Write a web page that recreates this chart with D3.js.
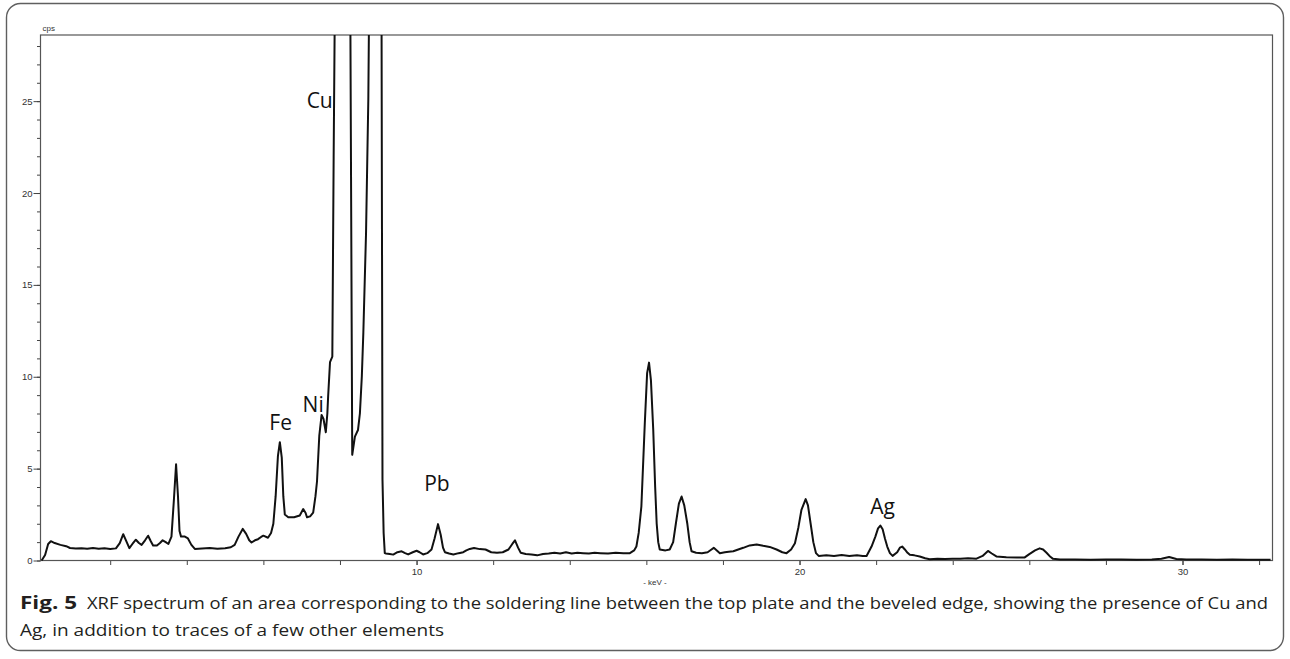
<!DOCTYPE html>
<html><head><meta charset="utf-8">
<script src="https://cdn.jsdelivr.net/npm/d3@7"></script>
<style>body{margin:0;background:#fff}svg{display:block}</style>
</head><body><svg id="c" width="1290" height="659"></svg>
<script>
// ---- data ----
const energyKeV = [0.21,0.30,0.38,0.45,0.55,0.70,0.85,0.95,1.10,1.25,1.40,1.55,1.70,1.85,2.00,2.15,2.25,2.34,2.42,2.50,2.58,2.67,2.75,2.82,2.91,2.99,3.06,3.12,3.22,3.30,3.37,3.45,3.52,3.60,3.66,3.72,3.77,3.81,3.85,3.95,4.03,4.12,4.21,4.40,4.60,4.80,5.00,5.15,5.25,5.35,5.46,5.55,5.63,5.69,5.78,5.86,5.94,6.00,6.12,6.20,6.26,6.32,6.38,6.43,6.48,6.52,6.56,6.65,6.80,6.95,7.04,7.10,7.14,7.22,7.30,7.36,7.40,7.46,7.52,7.57,7.63,7.67,7.69,7.74,7.80,7.835,7.865,8.05,8.27,8.32,8.39,8.47,8.52,8.57,8.61,8.68,8.74,8.76,8.91,9.085,9.11,9.14,9.17,9.20,9.30,9.39,9.50,9.61,9.70,9.78,9.90,10.00,10.08,10.17,10.28,10.39,10.47,10.56,10.63,10.69,10.74,10.85,10.96,11.10,11.22,11.30,11.39,11.50,11.65,11.80,11.95,12.10,12.25,12.40,12.50,12.57,12.65,12.72,12.85,13.00,13.15,13.30,13.45,13.60,13.75,13.90,14.05,14.20,14.35,14.50,14.65,14.80,15.00,15.20,15.40,15.57,15.68,15.74,15.80,15.87,15.96,16.02,16.07,16.12,16.18,16.23,16.27,16.31,16.35,16.50,16.61,16.70,16.77,16.85,16.92,16.99,17.07,17.13,17.18,17.30,17.45,17.60,17.70,17.76,17.84,17.92,18.05,18.15,18.27,18.40,18.53,18.70,18.88,19.05,19.22,19.40,19.55,19.66,19.78,19.88,19.97,20.05,20.16,20.22,20.29,20.36,20.43,20.50,20.70,20.90,21.10,21.30,21.50,21.65,21.75,21.88,21.98,22.05,22.11,22.17,22.23,22.29,22.36,22.43,22.55,22.62,22.68,22.75,22.82,22.88,23.00,23.14,23.28,23.40,23.60,23.80,24.00,24.20,24.40,24.62,24.78,24.92,25.02,25.14,25.40,25.67,25.88,26.00,26.15,26.27,26.36,26.45,26.55,26.62,26.80,27.20,27.60,28.00,28.40,28.80,29.20,29.45,29.65,29.84,30.10,30.50,30.90,31.30,31.70,32.00,32.30];
const countsCps = [0,0.3,0.9,1.05,0.95,0.85,0.78,0.68,0.65,0.67,0.64,0.68,0.64,0.67,0.63,0.66,0.95,1.43,1.05,0.67,0.9,1.13,0.95,0.85,1.1,1.35,1.05,0.82,0.82,0.95,1.1,1.0,0.9,1.3,3.2,5.24,3.5,1.6,1.3,1.3,1.2,0.85,0.63,0.65,0.68,0.64,0.67,0.72,0.85,1.3,1.72,1.45,1.1,0.98,1.1,1.16,1.28,1.35,1.24,1.5,2.0,3.5,5.7,6.44,5.6,3.5,2.5,2.35,2.35,2.45,2.8,2.6,2.35,2.4,2.6,3.5,4.3,6.8,7.92,7.7,6.98,8.0,8.9,10.8,11.1,22,30,60,30,5.75,6.74,7.1,8.0,10.0,12.4,17.8,25.1,30,45,30,4.4,1.5,0.4,0.38,0.35,0.32,0.45,0.5,0.4,0.33,0.45,0.53,0.45,0.33,0.4,0.6,1.2,1.98,1.4,0.7,0.45,0.38,0.33,0.4,0.45,0.55,0.63,0.68,0.62,0.6,0.45,0.42,0.45,0.6,0.9,1.1,0.7,0.42,0.35,0.33,0.28,0.35,0.38,0.42,0.38,0.45,0.38,0.42,0.4,0.38,0.42,0.4,0.38,0.42,0.4,0.4,0.55,0.76,1.5,2.94,7.5,10.2,10.77,9.8,7.1,4.0,2.0,1.0,0.6,0.55,0.6,1.0,2.0,3.1,3.48,3.0,2.0,1.0,0.5,0.42,0.4,0.45,0.6,0.69,0.55,0.4,0.45,0.48,0.5,0.6,0.69,0.82,0.87,0.8,0.74,0.6,0.45,0.4,0.6,0.94,1.8,2.76,3.34,3.0,2.0,1.0,0.4,0.25,0.28,0.25,0.3,0.25,0.28,0.25,0.25,0.76,1.3,1.75,1.9,1.7,1.2,0.76,0.4,0.25,0.45,0.7,0.76,0.6,0.42,0.31,0.28,0.22,0.12,0.07,0.1,0.08,0.1,0.09,0.12,0.1,0.25,0.52,0.38,0.22,0.18,0.16,0.17,0.35,0.55,0.66,0.6,0.42,0.2,0.09,0.05,0.05,0.04,0.06,0.05,0.04,0.05,0.1,0.19,0.08,0.06,0.05,0.04,0.06,0.04,0.04,0.04];

const yMajorTicks = [0,5,10,15,20,25];
const yMinorTicks = [0,1,2,3,4,5,6,7,8,9,10,11,12,13,14,15,16,17,18,19,20,21,22,23,24,25,26,27,28];
const xMajorTicks = [10,20,30];
const xMinorTicks = [2,4,6,8,10,12,14,16,18,20,22,24,26,28,30,32];

const peakNames = ["Cu","Fe","Ni","Pb","Ag"];
const peakNameKeV = [7.47,6.45,7.30,10.53,22.17];
const peakNameCps = [24.6,7.1,8.1,3.8,2.55];

const yUnit = "cps";
const xUnit = "- keV -";
const captionBold = "Fig. 5";
const captionLine1 = "XRF spectrum of an area corresponding to the soldering line between the top plate and the beveled edge, showing the presence of Cu and";
const captionLine2 = "Ag, in addition to traces of a few other elements";

// ---- drawing ----
const svg = d3.select("#c");
const L = 40.5, R = 1272.5, T = 35, B = 560.5;
const x = d3.scaleLinear().domain([0.18, 32.35]).range([L, R]);
const y = d3.scaleLinear().domain([0, 28.6]).range([B, T]);

// outer rounded frame
svg.append("rect").attr("x",6.5).attr("y",3.5).attr("width",1277).attr("height",647)
  .attr("rx",14).attr("fill","none").attr("stroke","#5f5f5f").attr("stroke-width",1.4);

svg.append("defs").append("clipPath").attr("id","plotclip")
  .append("rect").attr("x",L).attr("y",T).attr("width",R-L).attr("height",B-T+2);

const axisFont = "Liberation Sans, Arial, sans-serif";

const gyMinor = svg.append("g").attr("transform",`translate(${L},0)`)
  .call(d3.axisLeft(y).tickValues(yMinorTicks).tickSize(3.5).tickFormat(""));
const gyMajor = svg.append("g").attr("transform",`translate(${L},0)`)
  .call(d3.axisLeft(y).tickValues(yMajorTicks).tickSize(7).tickPadding(1));
const gxMinor = svg.append("g").attr("transform",`translate(0,${B})`)
  .call(d3.axisBottom(x).tickValues(xMinorTicks).tickSize(4.5).tickFormat(""));
const gxMajor = svg.append("g").attr("transform",`translate(0,${B})`)
  .call(d3.axisBottom(x).tickValues(xMajorTicks).tickSize(4.5).tickPadding(3));
[gyMinor,gyMajor,gxMinor,gxMajor].forEach(g=>{
  g.select(".domain").remove();
  g.selectAll("line").attr("stroke","#444").attr("stroke-width",1);
  g.selectAll("text").attr("fill","#333").style("font-family",axisFont).style("font-size","9.5px");
});

// plot frame
svg.append("rect").attr("x",L).attr("y",T).attr("width",R-L).attr("height",B-T)
  .attr("fill","none").attr("stroke","#555").attr("stroke-width",1.2);

svg.append("text").attr("x",L+2).attr("y",T-4).text(yUnit)
  .style("font-family",axisFont).style("font-size","8px").attr("fill","#333");
svg.append("text").attr("x",655).attr("y",585).attr("text-anchor","middle").text(xUnit)
  .style("font-family",axisFont).style("font-size","8px").attr("fill","#333");

// spectrum
const pts = energyKeV.map((k,i)=>[k,countsCps[i]]);
svg.append("path").datum(pts).attr("clip-path","url(#plotclip)")
  .attr("d", d3.line().x(d=>x(d[0])).y(d=>y(d[1])))
  .attr("fill","none").attr("stroke","#111").attr("stroke-width",2).attr("stroke-linejoin","round");

// element labels
svg.append("g").selectAll("text").data(peakNames).join("text")
  .attr("x",(d,i)=>x(peakNameKeV[i])).attr("y",(d,i)=>y(peakNameCps[i]))
  .attr("text-anchor","middle").text(d=>d)
  .style("font-family","Open Sans, sans-serif").style("font-size","21px").attr("fill","#111");

// caption
const capFont = "Open Sans, sans-serif";
svg.append("text").attr("x",20).attr("y",609).text(captionBold)
  .attr("textLength",57).attr("lengthAdjust","spacingAndGlyphs")
  .style("font-family",capFont).style("font-weight","bold").style("font-size","17px").attr("fill","#231f20");
svg.append("text").attr("x",87).attr("y",609).text(captionLine1)
  .attr("textLength",1181).attr("lengthAdjust","spacingAndGlyphs")
  .style("font-family",capFont).style("font-size","17px").attr("fill","#231f20");
svg.append("text").attr("x",20).attr("y",636).text(captionLine2)
  .attr("textLength",424).attr("lengthAdjust","spacingAndGlyphs")
  .style("font-family",capFont).style("font-size","17px").attr("fill","#231f20");
</script></body></html>
